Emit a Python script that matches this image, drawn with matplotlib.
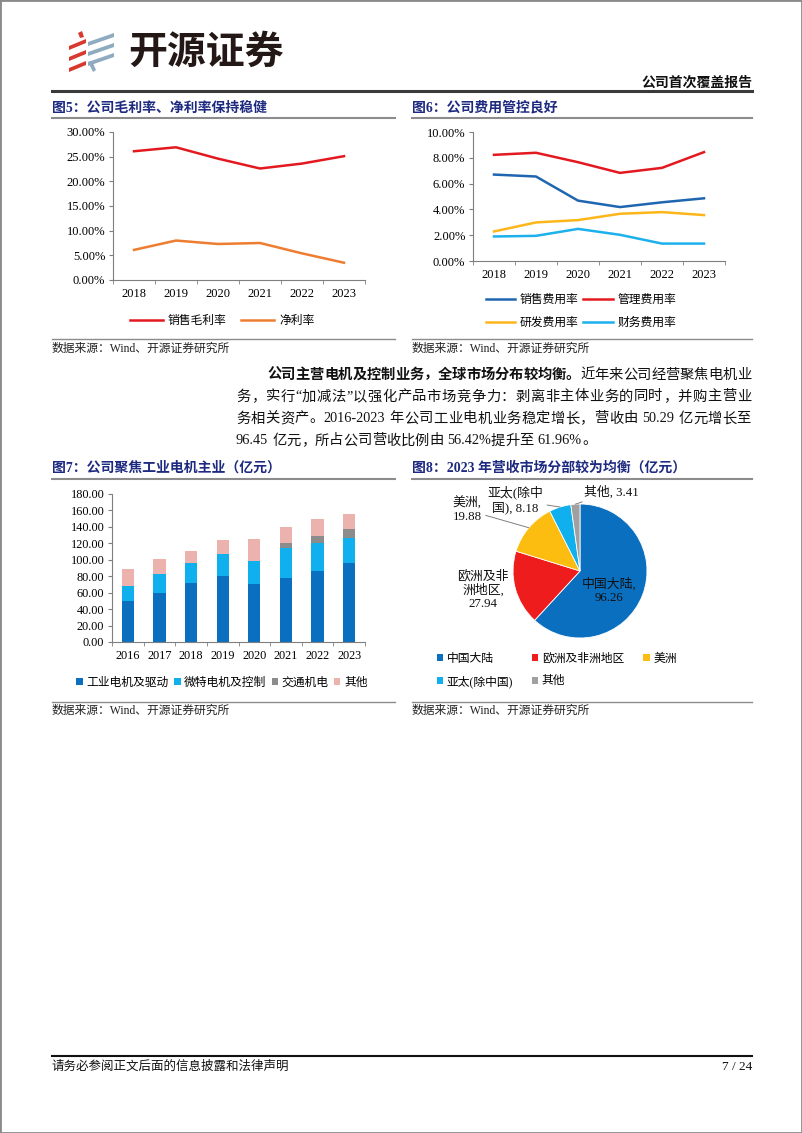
import numpy as np
import matplotlib
matplotlib.use('Agg')
import matplotlib.pyplot as plt
from matplotlib.patches import Polygon, Rectangle, Patch
from matplotlib.lines import Line2D
from matplotlib.ticker import FuncFormatter, MultipleLocator

W, H = 802, 1133
FONT = ['Liberation Serif', 'Noto Sans CJK SC']
plt.rcParams['font.family'] = FONT

# ---- data ----
years_a = ['2018', '2019', '2020', '2021', '2022', '2023']
gross_margin = [26.1, 26.9, 24.6, 22.6, 23.6, 25.1]
net_margin = [6.1, 8.0, 7.3, 7.5, 5.4, 3.5]

sales_exp = [6.70, 6.55, 4.68, 4.18, 4.55, 4.86]
admin_exp = [8.23, 8.39, 7.66, 6.83, 7.22, 8.44]
rd_exp = [2.29, 2.99, 3.17, 3.66, 3.79, 3.56]
fin_exp = [1.90, 1.95, 2.49, 2.03, 1.35, 1.35]

years_b = ['2016', '2017', '2018', '2019', '2020', '2021', '2022', '2023']
ind_motor = [50.29, 59.0, 71.7, 80.6, 70.8, 78.2, 86.7, 96.45]
micro_motor = [18.1, 23.7, 24.0, 26.1, 27.7, 36.6, 33.4, 30.6]
traffic = [0, 0, 0, 0, 0, 6.1, 9.4, 9.8]
others = [20.4, 17.9, 14.6, 17.5, 26.9, 18.8, 20.3, 18.7]
bar_names = ['工业电机及驱动', '微特电机及控制', '交通机电', '其他']

regions = ['中国大陆', '欧洲及非洲地区', '美洲', '亚太(除中国)', '其他']
region_rev = [96.26, 27.94, 19.88, 8.18, 3.41]

NAVY = '#1d2a80'
AXC = '#7f7f7f'

fig = plt.figure(figsize=(W / 100, H / 100), dpi=100)


def fx(x):
    return x / W


def fy(y):
    return 1 - y / H


def add_ax(x0, y0, x1, y1):
    return fig.add_axes([fx(x0), fy(y1), (x1 - x0) / W, (y1 - y0) / H])


def hline(x0, x1, y, color, lw):
    fig.add_artist(Line2D([fx(x0), fx(x1)], [fy(y), fy(y)], color=color, lw=lw))


def poly(pts, color):
    fig.add_artist(Polygon([(fx(a), fy(b)) for a, b in pts], closed=True,
                           facecolor=color, edgecolor='none',
                           transform=fig.transFigure))


def ftext(x, y, s, **kw):
    kw.setdefault('va', 'center')
    kw.setdefault('family', FONT)
    return fig.text(fx(x), fy(y), s, **kw)


def justify(segs, x0, x1, y, fs, full=True):
    r = fig.canvas.get_renderer()
    toks = []
    for s, wt in segs:
        buf = ''
        gap = 0
        for ch in s:
            if ch == ' ':
                if buf:
                    toks.append([buf, wt, gap]); buf = ''; gap = 0
                gap += 1
            elif ord(ch) < 128:
                buf += ch
            else:
                if buf:
                    toks.append([buf, wt, gap]); buf = ''; gap = 0
                toks.append([ch, wt, gap]); gap = 0
        if buf:
            toks.append([buf, wt, gap])
    objs = []
    widths = []
    for t, wt, g in toks:
        o = ftext(0, y, t, fontsize=fs, fontweight=wt, color='#111111')
        objs.append(o)
        widths.append(o.get_window_extent(r).width)
    sp = fs * 100 / 72 * 0.28
    natural = sum(widths) + sp * sum(t[2] for t in toks)
    extra = ((x1 - x0) - natural) / (len(toks) - 1) if full else 0
    x = x0
    for o, wdt, t in zip(objs, widths, toks):
        x += sp * t[2]
        o.set_x(fx(x))
        x += wdt + extra


# ---- page frame, logo, header ----
fig.add_artist(Rectangle((0, 0), 1, 1, transform=fig.transFigure, fill=False,
                         edgecolor='#8a8a8a', lw=2))
red = '#d8392f'
grey_blue = '#8fabc0'
for dy in (0, 11, 22):
    poly([(69, 46 + dy), (86, 39 + dy), (86, 43 + dy), (69, 50 + dy)], red)
poly([(78, 33), (82, 31), (84, 37), (80, 38)], red)
for dy in (0, 10, 20):
    poly([(88, 42 + dy), (114, 33 + dy), (114, 37 + dy), (88, 46 + dy)], grey_blue)
poly([(88, 62), (92, 61), (96, 70), (93, 72)], grey_blue)
ftext(128, 52, '开源证券', fontsize=28, fontweight='bold', color='#231815',
      family=['Noto Sans CJK SC'])
ftext(752, 83, '公司首次覆盖报告', fontsize=10, fontweight='bold', ha='right',
      color='#111111')
hline(52, 752, 91, '#3a3a3a', 2.2)

# section titles / separators
ftext(52, 108, '图5：公司毛利率、净利率保持稳健', fontsize=10, fontweight='bold', color=NAVY)
ftext(412, 108, '图6：公司费用管控良好', fontsize=10, fontweight='bold', color=NAVY)
hline(52, 395, 118, '#8c8c8c', 1.5)
hline(412, 752, 118, '#8c8c8c', 1.5)
hline(52, 395, 339, '#8c8c8c', 1.0)
hline(412, 752, 339, '#8c8c8c', 1.0)
ftext(52, 349, '数据来源：Wind、开源证券研究所', fontsize=8.5, color='#222222')
ftext(412, 349, '数据来源：Wind、开源证券研究所', fontsize=8.5, color='#222222')

ftext(52, 468, '图7：公司聚焦工业电机主业（亿元）', fontsize=10, fontweight='bold', color=NAVY)
ftext(412, 468, '图8：2023 年营收市场分部较为均衡（亿元）', fontsize=10, fontweight='bold', color=NAVY)
hline(52, 395, 479, '#8c8c8c', 1.5)
hline(412, 752, 479, '#8c8c8c', 1.5)
hline(52, 395, 702, '#8c8c8c', 1.0)
hline(412, 752, 702, '#8c8c8c', 1.0)
ftext(52, 711, '数据来源：Wind、开源证券研究所', fontsize=8.5, color='#222222')
ftext(412, 711, '数据来源：Wind、开源证券研究所', fontsize=8.5, color='#222222')

# paragraph
fs_p = 10.3
justify([('公司主营电机及控制业务，全球市场分布较均衡。', 'bold'),
         ('近年来公司经营聚焦电机业', 'normal')], 267, 751, 375, fs_p)
justify([('务，实行“加减法”以强化产品市场竞争力：剥离非主体业务的同时，并购主营业', 'normal')],
        236, 751, 397, fs_p)
justify([('务相关资产。2016-2023 年公司工业电机业务稳定增长，营收由 50.29 亿元增长至', 'normal')],
        236, 751, 419, fs_p)
justify([('96.45 亿元，所占公司营收比例由 56.42%提升至 61.96%。', 'normal')],
        236, 751, 441, fs_p, full=False)

# footer
hline(52, 752, 1056, '#111111', 1.5)
ftext(52, 1067, '请务必参阅正文后面的信息披露和法律声明', fontsize=9, color='#111111')
ftext(752, 1067, '7 / 24', fontsize=9.5, ha='right', color='#111111')


def style(ax, labels, ymax, step, fmt, fs=9):
    n = len(labels)
    for s in ('top', 'right'):
        ax.spines[s].set_visible(False)
    for s in ('left', 'bottom'):
        ax.spines[s].set_color(AXC)
        ax.spines[s].set_linewidth(0.8)
    ax.set_xlim(-0.5, n - 0.5)
    ax.set_ylim(0, ymax)
    ax.set_xticks(range(n))
    ax.set_xticklabels(labels)
    ax.set_xticks(np.arange(-0.5, n), minor=True)
    ax.tick_params(axis='x', which='major', length=0, pad=6, labelsize=fs)
    ax.tick_params(axis='x', which='minor', length=3, color=AXC, direction='out')
    ax.yaxis.set_major_locator(MultipleLocator(step))
    ax.yaxis.set_major_formatter(FuncFormatter(lambda v, p: fmt.format(v)))
    ax.tick_params(axis='y', length=3, color=AXC, direction='out', pad=2.5, labelsize=fs)
    ax.patch.set_alpha(0)


# ---- chart 5 ----
ax5 = add_ax(113, 132, 365, 280)
x = np.arange(len(years_a))
l1, = ax5.plot(x, gross_margin, color='#e3191f', lw=1.8, label='销售毛利率')
l2, = ax5.plot(x, net_margin, color='#ee7d31', lw=1.8, label='净利率')
style(ax5, years_a, 30, 5, '{:.2f}%')
fig.legend(handles=[l1, l2], loc='center', bbox_to_anchor=(fx(222), fy(321)),
           ncol=2, frameon=False, fontsize=8.5, handlelength=2.8,
           handletextpad=0.4, columnspacing=1.3)

# ---- chart 6 ----
ax6 = add_ax(473, 132, 725, 261)
h_sales, = ax6.plot(x, sales_exp, color='#1f66b0', lw=1.8, label='销售费用率')
h_admin, = ax6.plot(x, admin_exp, color='#e3191f', lw=1.8, label='管理费用率')
h_rd, = ax6.plot(x, rd_exp, color='#fdb61a', lw=1.8, label='研发费用率')
h_fin, = ax6.plot(x, fin_exp, color='#1cb0ec', lw=1.8, label='财务费用率')
style(ax6, years_a, 10, 2, '{:.2f}%')
fig.legend(handles=[h_sales, h_rd, h_admin, h_fin], loc='center',
           bbox_to_anchor=(fx(581), fy(311.5)), ncol=2, frameon=False,
           fontsize=8.5, handlelength=2.5, handletextpad=0.4,
           columnspacing=0.4, labelspacing=0.9)

# ---- chart 7 ----
ax7 = add_ax(112, 494, 365, 642)
xb = np.arange(len(years_b))
bar_colors = ['#0a6fbf', '#10b0ee', '#8c8c8c', '#ecb2ad']
bottom = np.zeros(len(years_b))
handles = []
for vals, c, nm in zip([ind_motor, micro_motor, traffic, others], bar_colors, bar_names):
    ax7.bar(xb, vals, 0.39, bottom=bottom, color=c)
    bottom += np.array(vals)
    handles.append(Patch(facecolor=c, label=nm))
style(ax7, years_b, 180, 20, '{:.2f}', fs=8.8)
fig.legend(handles=handles, loc='center', bbox_to_anchor=(fx(222), fy(683)),
           ncol=4, frameon=False, fontsize=8.5, handlelength=0.55,
           handleheight=0.55, handletextpad=0.3, columnspacing=0.45)

# ---- chart 8 ----
R = 67
ax8 = add_ax(580 - 130, 571 - 130, 580 + 130, 571 + 130)
pie_colors = ['#0a6fbf', '#ee1c1c', '#fdbd10', '#10b0ee', '#a0a0a0']
wedges, _ = ax8.pie(region_rev, colors=pie_colors, startangle=90, counterclock=False,
                    radius=1, wedgeprops=dict(edgecolor='white', linewidth=0.6))
lim = 130 / R
ax8.set_xlim(-lim, lim)
ax8.set_ylim(-lim, lim)
ax8.set_aspect('equal')
ax8.axis('off')


def px2d(px, py):
    return ((px - 580) / R, -(py - 571) / R)


def mid(w):
    a = np.deg2rad((w.theta1 + w.theta2) / 2)
    return np.cos(a), np.sin(a)


pie_fs = 9.3
ax8.text(*px2d(609, 591), '中国大陆,\n96.26', ha='center', va='center',
         fontsize=pie_fs, linespacing=1.15, family=FONT, color='#111111')
ax8.text(*px2d(483, 590), '欧洲及非\n洲地区,\n27.94', ha='center', va='center',
         fontsize=pie_fs, linespacing=1.15, family=FONT, color='#111111')
lead = dict(arrowstyle='-', color='#7f7f7f', lw=0.7, shrinkA=1, shrinkB=0)
ax8.annotate('美洲,\n19.88', xy=mid(wedges[2]), xytext=px2d(467, 510),
             ha='center', va='center', fontsize=pie_fs, linespacing=1.15,
             family=FONT, arrowprops=lead, annotation_clip=False, color='#111111')
ax8.annotate('亚太(除中\n国), 8.18', xy=mid(wedges[3]), xytext=px2d(515, 500),
             ha='center', va='center', fontsize=pie_fs, linespacing=1.15,
             family=FONT, arrowprops=lead, annotation_clip=False, color='#111111')
ax8.annotate('其他, 3.41', xy=mid(wedges[4]), xytext=px2d(584, 492),
             ha='left', va='center', fontsize=pie_fs, family=FONT,
             arrowprops=lead, annotation_clip=False, color='#111111')

ph = [Patch(facecolor=c, label=nm) for c, nm in zip(pie_colors, regions)]
order = [0, 3, 1, 4, 2]
fig.legend(handles=[ph[i] for i in order], loc='upper left',
           bbox_to_anchor=(fx(426), fy(642)), ncol=3, frameon=False,
           fontsize=8.5, handlelength=0.55, handleheight=0.55,
           handletextpad=0.3, columnspacing=1.6, labelspacing=0.9)

fig.savefig('out.png', dpi=100)
